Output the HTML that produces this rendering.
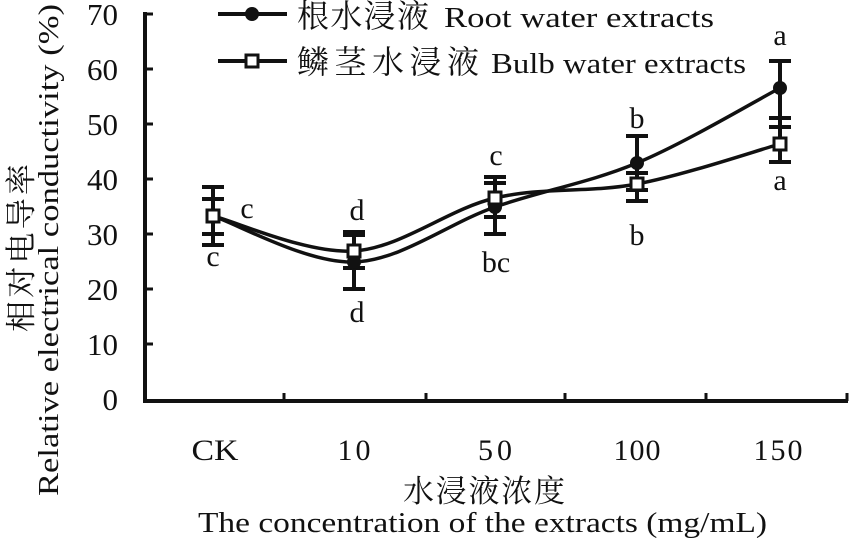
<!DOCTYPE html>
<html><head><meta charset="utf-8"><style>
html,body{margin:0;padding:0;background:#fff;}
svg{display:block;}
text{font-family:"Liberation Serif","Noto Serif CJK SC","Noto Sans CJK SC",serif;fill:#111;}
.cj{font-family:"Liberation Serif","Noto Serif CJK SC","Noto Sans CJK SC",serif;}
</style></head><body>
<svg width="850" height="538" viewBox="0 0 850 538" xmlns="http://www.w3.org/2000/svg">
<rect width="850" height="538" fill="#fff"/>
<!-- axes -->
<g stroke="#111" stroke-width="4" fill="none">
<line x1="145" y1="12" x2="145" y2="403"/>
<line x1="143" y1="401" x2="848" y2="401"/>
</g>
<g stroke="#111" stroke-width="3">
<line x1="145" y1="14" x2="153" y2="14"/>
<line x1="145" y1="69" x2="153" y2="69"/>
<line x1="145" y1="124" x2="153" y2="124"/>
<line x1="145" y1="179" x2="153" y2="179"/>
<line x1="145" y1="234" x2="153" y2="234"/>
<line x1="145" y1="289" x2="153" y2="289"/>
<line x1="145" y1="344" x2="153" y2="344"/>
<line x1="284" y1="401" x2="284" y2="393"/>
<line x1="426" y1="401" x2="426" y2="393"/>
<line x1="565" y1="401" x2="565" y2="393"/>
<line x1="706" y1="401" x2="706" y2="393"/>
<line x1="847" y1="401" x2="847" y2="393"/>
</g>
<!-- y tick labels -->
<g font-size="31" text-anchor="end">
<text x="118" y="25">70</text>
<text x="118" y="80">60</text>
<text x="118" y="135">50</text>
<text x="118" y="190">40</text>
<text x="118" y="245">30</text>
<text x="118" y="300">20</text>
<text x="118" y="355">10</text>
<text x="118" y="410">0</text>
</g>
<!-- x tick labels -->
<g font-size="30" text-anchor="middle">
<text x="215" y="460" textLength="47" lengthAdjust="spacingAndGlyphs">CK</text>
<text x="354" y="460" textLength="33">10</text>
<text x="495" y="460" textLength="34">50</text>
<text x="637" y="460" textLength="47">100</text>
<text x="778" y="460" textLength="49">150</text>
</g>
<!-- axis titles -->
<text class="cj" x="484" y="502" font-size="31" text-anchor="middle" textLength="162">水浸液浓度</text>
<text x="198" y="532" font-size="28" textLength="569" lengthAdjust="spacingAndGlyphs">The concentration of the extracts (mg/mL)</text>
<text class="cj" transform="translate(32,248) rotate(-90)" font-size="31" text-anchor="middle" textLength="168">相对电导率</text>
<text transform="translate(58,250) rotate(-90)" font-size="29" text-anchor="middle" textLength="492" lengthAdjust="spacingAndGlyphs">Relative electrical conductivity (%)</text>
<!-- series lines -->
<g fill="none" stroke="#111" stroke-width="3.5" stroke-linejoin="round">
<path d="M213,216 C236.5,223.7 307,263.5 354,262 C401,260.5 447.8,223.5 495,207 C542.2,190.5 589.5,182.8 637,163 C684.5,143.2 756.2,100.5 780,88"/>
<path d="M213,216 C236.5,221.8 307,254 354,251 C401,248 447.8,209.2 495,198 C542.2,186.8 589.5,193 637,184 C684.5,175 756.2,150.7 780,144"/>
</g>
<!-- error bars -->
<g stroke="#111" stroke-width="4" fill="none">
<line x1="213" y1="187" x2="213" y2="245"/>
<line x1="202" y1="187" x2="224" y2="187"/><line x1="202" y1="245" x2="224" y2="245"/>
<line x1="202" y1="199" x2="224" y2="199"/><line x1="202" y1="234" x2="224" y2="234"/>
<line x1="354" y1="233" x2="354" y2="289"/>
<line x1="343" y1="232" x2="365" y2="232"/><line x1="343" y1="235" x2="365" y2="235"/>
<line x1="343" y1="289" x2="365" y2="289"/><line x1="343" y1="268" x2="365" y2="268"/>
<line x1="495" y1="178" x2="495" y2="234"/>
<line x1="484" y1="177" x2="506" y2="177"/><line x1="484" y1="183" x2="506" y2="183"/>
<line x1="484" y1="217" x2="506" y2="217"/><line x1="484" y1="234" x2="506" y2="234"/>
<line x1="637" y1="136" x2="637" y2="201"/>
<line x1="626" y1="136" x2="648" y2="136"/><line x1="626" y1="190" x2="648" y2="190"/>
<line x1="626" y1="173" x2="648" y2="173"/><line x1="626" y1="201" x2="648" y2="201"/>
<line x1="780" y1="61" x2="780" y2="162"/>
<line x1="769" y1="61" x2="791" y2="61"/><line x1="769" y1="118" x2="791" y2="118"/>
<line x1="769" y1="127" x2="791" y2="127"/><line x1="769" y1="162" x2="791" y2="162"/>
</g>
<!-- markers -->
<g fill="#111">
<circle cx="213" cy="216" r="7"/>
<circle cx="354" cy="262" r="7"/>
<circle cx="495" cy="207" r="7"/>
<circle cx="637" cy="163" r="7"/>
<circle cx="780" cy="88" r="7"/>
</g>
<g fill="#fff" stroke="#111" stroke-width="3">
<rect x="207" y="210" width="12" height="12"/>
<rect x="348" y="245" width="12" height="12"/>
<rect x="489" y="192" width="12" height="12"/>
<rect x="631" y="178" width="12" height="12"/>
<rect x="774" y="138" width="12" height="12"/>
</g>
<!-- significance letters -->
<g font-size="30" text-anchor="middle">
<text x="247" y="218">c</text>
<text x="213" y="266">c</text>
<text x="357" y="220">d</text>
<text x="357" y="322">d</text>
<text x="496" y="165">c</text>
<text x="496" y="272">bc</text>
<text x="637" y="128">b</text>
<text x="637" y="245">b</text>
<text x="780" y="45">a</text>
<text x="780" y="190">a</text>
</g>
<!-- legend -->
<g stroke="#111" stroke-width="4">
<line x1="218" y1="14" x2="287" y2="14"/>
<line x1="218" y1="61" x2="287" y2="61"/>
</g>
<circle cx="252" cy="14" r="7" fill="#111"/>
<rect x="246" y="55" width="12" height="12" fill="#fff" stroke="#111" stroke-width="3"/>
<text class="cj" x="297" y="27" font-size="32" textLength="132">根水浸液</text>
<text x="444" y="27" font-size="28" textLength="270" lengthAdjust="spacingAndGlyphs">Root water extracts</text>
<text class="cj" x="297" y="73" font-size="32" textLength="182">鳞茎水浸液</text>
<text x="491" y="73" font-size="28" textLength="255" lengthAdjust="spacingAndGlyphs">Bulb water extracts</text>
</svg>
</body></html>
